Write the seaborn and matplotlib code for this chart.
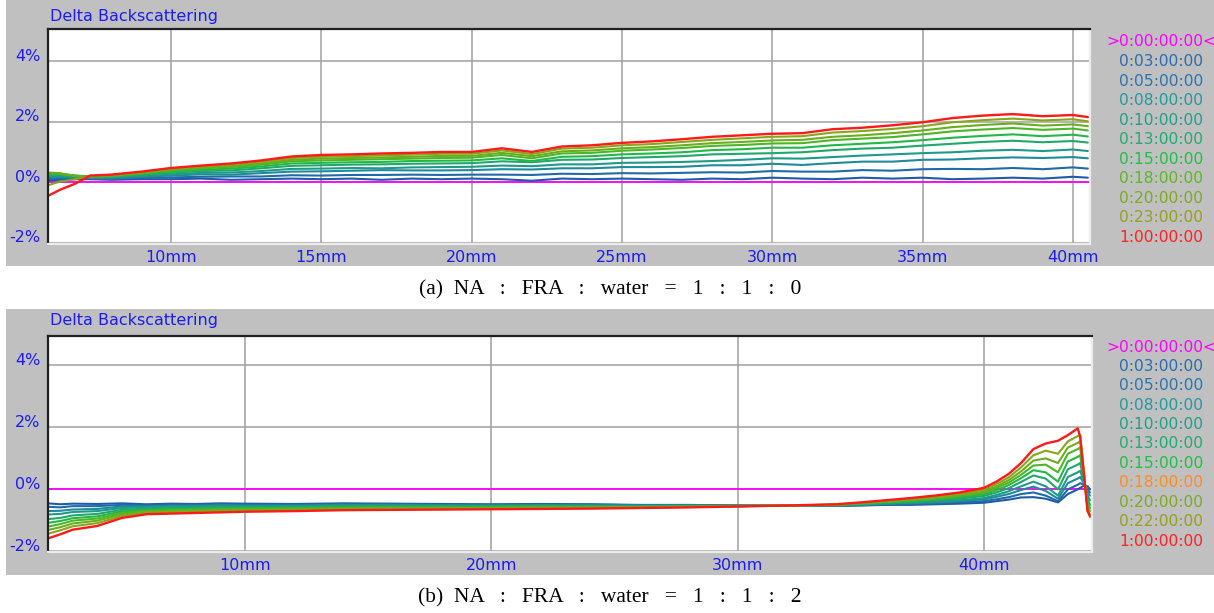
import matplotlib
matplotlib.use("Agg")
import matplotlib.pyplot as plt
import seaborn as sns
import pandas as pd
from matplotlib.patches import Rectangle
from matplotlib.transforms import ScaledTranslation

# ------------------------------------------------------------------
# Panel (a): NA : FRA : water = 1 : 1 : 0   (delta backscattering, %)
# ------------------------------------------------------------------
A_X = [5.9, 6.3, 6.8, 7.3, 8, 9, 10, 11, 12, 13, 14, 15, 16, 17, 18, 19, 20, 21, 22,
       23, 24, 25, 26, 27, 28, 29, 30, 31, 32, 33, 34, 35, 36, 37, 38, 39, 40, 40.5]
A_TIMES = ["0:03:00:00", "0:05:00:00", "0:08:00:00", "0:10:00:00", "0:13:00:00",
           "0:15:00:00", "0:18:00:00", "0:20:00:00", "0:23:00:00", "1:00:00:00"]
A_03 = [0.05, 0.08, 0.10, 0.10, 0.08, 0.10, 0.10, 0.12, 0.08, 0.10, 0.12, 0.10, 0.12, 0.08, 0.12, 0.10, 0.12, 0.10, 0.05,
        0.12, 0.10, 0.12, 0.10, 0.08, 0.12, 0.10, 0.15, 0.12, 0.10, 0.15, 0.12, 0.15, 0.10, 0.12, 0.15, 0.12, 0.18, 0.15]
A_05 = [0.10, 0.12, 0.12, 0.12, 0.11, 0.14, 0.16, 0.18, 0.19, 0.19, 0.23, 0.22, 0.24, 0.24, 0.25, 0.24, 0.25, 0.25, 0.24,
        0.28, 0.27, 0.30, 0.29, 0.31, 0.33, 0.32, 0.37, 0.35, 0.35, 0.40, 0.38, 0.43, 0.44, 0.43, 0.47, 0.43, 0.49, 0.45]
A_08 = [0.15, 0.17, 0.15, 0.14, 0.13, 0.18, 0.22, 0.26, 0.25, 0.30, 0.35, 0.36, 0.38, 0.40, 0.39, 0.39, 0.40, 0.43, 0.42,
        0.46, 0.46, 0.50, 0.50, 0.51, 0.56, 0.56, 0.61, 0.57, 0.63, 0.68, 0.68, 0.74, 0.75, 0.79, 0.82, 0.80, 0.83, 0.79]
A_10 = [0.20, 0.20, 0.18, 0.15, 0.16, 0.21, 0.26, 0.31, 0.32, 0.37, 0.44, 0.45, 0.47, 0.46, 0.49, 0.50, 0.51, 0.55, 0.53,
        0.59, 0.59, 0.64, 0.65, 0.67, 0.70, 0.74, 0.79, 0.78, 0.83, 0.88, 0.92, 0.96, 0.99, 1.04, 1.07, 1.03, 1.08, 1.03]
A_13 = [0.25, 0.24, 0.20, 0.17, 0.18, 0.25, 0.31, 0.37, 0.39, 0.46, 0.54, 0.56, 0.58, 0.59, 0.61, 0.62, 0.63, 0.69, 0.66,
        0.74, 0.75, 0.80, 0.83, 0.86, 0.92, 0.94, 0.96, 0.99, 1.06, 1.11, 1.14, 1.21, 1.27, 1.33, 1.37, 1.32, 1.36, 1.31]
A_15 = [0.28, 0.27, 0.22, 0.18, 0.20, 0.27, 0.35, 0.41, 0.45, 0.52, 0.62, 0.64, 0.66, 0.67, 0.70, 0.71, 0.72, 0.79, 0.70,
        0.84, 0.86, 0.92, 0.95, 0.99, 1.06, 1.09, 1.14, 1.14, 1.22, 1.27, 1.32, 1.39, 1.47, 1.53, 1.58, 1.52, 1.57, 1.51]
A_18 = [0.30, 0.28, 0.22, 0.19, 0.21, 0.30, 0.39, 0.46, 0.50, 0.58, 0.69, 0.72, 0.74, 0.76, 0.78, 0.80, 0.81, 0.90, 0.79,
        0.95, 0.97, 1.04, 1.08, 1.13, 1.20, 1.23, 1.28, 1.29, 1.39, 1.44, 1.49, 1.58, 1.68, 1.74, 1.79, 1.73, 1.77, 1.71]
A_20 = [0.32, 0.30, 0.20, 0.20, 0.23, 0.31, 0.42, 0.49, 0.54, 0.63, 0.74, 0.78, 0.80, 0.82, 0.84, 0.87, 0.87, 0.97, 0.86,
        1.02, 1.05, 1.12, 1.16, 1.22, 1.29, 1.33, 1.38, 1.40, 1.50, 1.55, 1.62, 1.71, 1.82, 1.89, 1.94, 1.87, 1.91, 1.85]
A_23 = [-0.10, 0.02, 0.10, 0.21, 0.24, 0.33, 0.44, 0.52, 0.58, 0.68, 0.80, 0.84, 0.86, 0.89, 0.91, 0.94, 0.94, 1.05, 0.93,
        1.11, 1.14, 1.22, 1.26, 1.33, 1.40, 1.45, 1.50, 1.52, 1.64, 1.69, 1.76, 1.85, 1.98, 2.05, 2.10, 2.04, 2.08, 2.01]
A_100 = [-0.45, -0.25, -0.05, 0.22, 0.25, 0.35, 0.47, 0.55, 0.62, 0.72, 0.85, 0.90, 0.92, 0.95, 0.97, 1.00, 1.00, 1.12, 1.00,
         1.18, 1.22, 1.30, 1.35, 1.42, 1.50, 1.55, 1.60, 1.62, 1.75, 1.80, 1.88, 1.98, 2.12, 2.20, 2.25, 2.18, 2.22, 2.15]

# ------------------------------------------------------------------
# Panel (b): NA : FRA : water = 1 : 1 : 2
# ------------------------------------------------------------------
B_X = [2.0, 2.5, 3, 4, 5, 6, 7, 8, 9, 10, 12, 14, 16, 18, 20, 22, 24, 26, 28, 30, 32, 34,
       35, 36, 37, 38, 39, 40, 40.5, 41, 41.5, 42, 42.5, 43, 43.4, 43.8, 43.9, 44.05, 44.2, 44.3]
B_TIMES = ["0:03:00:00", "0:05:00:00", "0:08:00:00", "0:10:00:00", "0:13:00:00",
           "0:15:00:00", "0:18:00:00", "0:20:00:00", "0:22:00:00", "1:00:00:00"]
B_03 = [-0.45, -0.48, -0.46, -0.47, -0.45, -0.48, -0.46, -0.47, -0.45, -0.46, -0.47, -0.45, -0.46, -0.47, -0.48, -0.47,
        -0.48, -0.50, -0.50, -0.52, -0.53, -0.53, -0.52, -0.50, -0.50, -0.48, -0.46, -0.43, -0.38, -0.33, -0.26, -0.25,
        -0.30, -0.42, -0.15, 0.00, 0.05, 0.12, 0.10, 0.00]
B_05 = [-0.56, -0.58, -0.54, -0.54, -0.50, -0.51, -0.49, -0.50, -0.48, -0.49, -0.49, -0.47, -0.48, -0.49, -0.50, -0.49,
        -0.49, -0.51, -0.51, -0.52, -0.53, -0.53, -0.51, -0.49, -0.48, -0.45, -0.42, -0.38, -0.32, -0.25, -0.15, -0.10,
        -0.20, -0.38, 0.00, 0.15, 0.20, 0.15, 0.00, -0.10]
B_08 = [-0.70, -0.69, -0.65, -0.63, -0.55, -0.55, -0.53, -0.53, -0.51, -0.52, -0.52, -0.50, -0.50, -0.51, -0.52, -0.51,
        -0.51, -0.52, -0.52, -0.53, -0.53, -0.52, -0.50, -0.47, -0.45, -0.42, -0.38, -0.32, -0.24, -0.15, -0.02, 0.09,
        -0.05, -0.30, 0.20, 0.35, 0.40, 0.20, -0.10, -0.20]
B_10 = [-0.81, -0.79, -0.73, -0.70, -0.60, -0.58, -0.56, -0.56, -0.54, -0.54, -0.54, -0.52, -0.52, -0.53, -0.53, -0.52,
        -0.53, -0.53, -0.53, -0.53, -0.53, -0.51, -0.49, -0.45, -0.43, -0.39, -0.35, -0.28, -0.18, -0.06, 0.10, 0.25,
        0.10, -0.20, 0.40, 0.55, 0.60, 0.25, -0.20, -0.35]
B_13 = [-0.96, -0.92, -0.84, -0.79, -0.66, -0.62, -0.60, -0.60, -0.58, -0.58, -0.57, -0.55, -0.55, -0.55, -0.55, -0.54,
        -0.54, -0.55, -0.54, -0.53, -0.53, -0.51, -0.48, -0.43, -0.40, -0.35, -0.30, -0.21, -0.10, 0.04, 0.24, 0.45,
        0.35, 0.00, 0.65, 0.80, 0.85, 0.30, -0.30, -0.50]
B_15 = [-1.08, -1.02, -0.93, -0.87, -0.71, -0.66, -0.64, -0.63, -0.61, -0.61, -0.60, -0.57, -0.57, -0.57, -0.57, -0.56,
        -0.56, -0.56, -0.55, -0.54, -0.52, -0.50, -0.46, -0.42, -0.38, -0.32, -0.26, -0.16, -0.03, 0.14, 0.36, 0.62,
        0.55, 0.25, 0.90, 1.05, 1.10, 0.35, -0.40, -0.60]
B_18 = [-1.20, -1.12, -1.01, -0.94, -0.76, -0.69, -0.67, -0.66, -0.64, -0.63, -0.62, -0.60, -0.59, -0.59, -0.59, -0.58,
        -0.57, -0.57, -0.55, -0.54, -0.52, -0.50, -0.45, -0.40, -0.36, -0.30, -0.22, -0.11, 0.04, 0.22, 0.47, 0.77,
        0.80, 0.55, 1.15, 1.30, 1.35, 0.40, -0.50, -0.70]
B_20 = [-1.31, -1.22, -1.10, -1.01, -0.81, -0.72, -0.70, -0.69, -0.67, -0.66, -0.65, -0.62, -0.61, -0.61, -0.60, -0.59,
        -0.59, -0.58, -0.56, -0.54, -0.52, -0.49, -0.44, -0.39, -0.33, -0.27, -0.19, -0.07, 0.10, 0.30, 0.58, 0.93,
        1.00, 0.85, 1.35, 1.50, 1.55, 0.50, -0.60, -0.85]
B_22 = [-1.43, -1.32, -1.19, -1.09, -0.86, -0.76, -0.74, -0.72, -0.70, -0.69, -0.67, -0.64, -0.63, -0.63, -0.62, -0.61,
        -0.60, -0.59, -0.57, -0.55, -0.52, -0.49, -0.43, -0.37, -0.31, -0.24, -0.15, -0.01, 0.17, 0.39, 0.71, 1.10,
        1.25, 1.15, 1.55, 1.72, 1.75, 0.60, -0.70, -0.90]
B_100 = [-1.58, -1.45, -1.30, -1.18, -0.92, -0.80, -0.78, -0.76, -0.74, -0.72, -0.70, -0.67, -0.66, -0.65, -0.64, -0.63,
         -0.62, -0.60, -0.58, -0.55, -0.52, -0.48, -0.42, -0.35, -0.28, -0.20, -0.10, 0.05, 0.25, 0.50, 0.85, 1.30,
         1.48, 1.57, 1.75, 1.97, 1.70, 0.50, -0.70, -0.85]

REF_LABEL = ">0:00:00:00<"
REF_LEVEL = 0.0
A_XTICKS = [10, 15, 20, 25, 30, 35, 40]
B_XTICKS = [10, 20, 30, 40]
YTICKS = [-2, 0, 2, 4]
YTICK_LABELS = ["-2%", "0%", "2%", "4%"]
TITLE = "Delta Backscattering"
CAPTION_A = "(a)  NA   :   FRA   :   water   =   1   :   1   :   0"
CAPTION_B = "(b)  NA   :   FRA   :   water   =   1   :   1   :   2"

# ------------------------------------------------------------------
LINE_COLORS = ["#1f5ca8", "#206aa8", "#1f8a9c", "#1f9a88", "#20a86c", "#22b848",
               "#4cb626", "#6aae1e", "#86a61c", "#ff1a1a"]
A_TEXT_COLORS = ["#2a6cb0", "#2a74b0", "#22999c", "#20a088", "#20ac70", "#20c040",
                 "#5cb820", "#7eaa20", "#98a020", "#ff2020"]
B_TEXT_COLORS = ["#2a6cb0", "#2a74b0", "#22999c", "#20a088", "#20ac70", "#20c040",
                 "#ff8c1a", "#7eaa20", "#98a020", "#ff2020"]
BLUE = "#1c1cf0"
MAGENTA = "#ff00ff"

sns.set_theme(style="white")
plt.rcParams["font.family"] = ["DejaVu Sans"]

W, H = 1214, 613
fig = plt.figure(figsize=(W / 100, H / 100), dpi=100)
fig.patch.set_facecolor("white")


def fx(px):
    return px / W


def fy(py):
    return 1 - py / H


def long_df(xs, times, series):
    rows = []
    for t, ys in zip(times, series):
        for xv, yv in zip(xs, ys):
            rows.append({"x": xv, "y": yv, "time": t})
    return pd.DataFrame(rows)


panels = [
    dict(gray=(0, 266), box=(48, 29, 1090, 244), xs=A_X, times=A_TIMES,
         series=[A_03, A_05, A_08, A_10, A_13, A_15, A_18, A_20, A_23, A_100],
         xlim=(5.9, 40.57), ylim=(-2.04, 5.06), xticks=A_XTICKS, tcol=A_TEXT_COLORS,
         title_y=16, leg_y0=42, leg_dy=19.5, caption=CAPTION_A, cap_y=290),
    dict(gray=(309, 575), box=(48, 336, 1092, 552), xs=B_X, times=B_TIMES,
         series=[B_03, B_05, B_08, B_10, B_13, B_15, B_18, B_20, B_22, B_100],
         xlim=(2.0, 44.38), ylim=(-2.02, 4.95), xticks=B_XTICKS, tcol=B_TEXT_COLORS,
         title_y=321, leg_y0=347, leg_dy=19.4, caption=CAPTION_B, cap_y=598),
]

for p in panels:
    g0, g1 = p["gray"]
    fig.patches.append(Rectangle((fx(6), fy(g1)), 1 - fx(6), (g1 - g0) / H,
                                 transform=fig.transFigure, facecolor="#c0c0c0",
                                 edgecolor="none", zorder=-5))
    l, t, r, b = p["box"]
    ax = fig.add_axes([fx(l), fy(b), (r - l) / W, (b - t) / H])
    ax.set_zorder(1)
    ax.set_facecolor("white")
    ax.axhline(REF_LEVEL, color=MAGENTA, lw=1.3, zorder=1.5)
    df = long_df(p["xs"], p["times"], p["series"])
    pal = dict(zip(p["times"], LINE_COLORS))
    sns.lineplot(data=df, x="x", y="y", hue="time", hue_order=p["times"],
                 palette=pal, estimator=None, sort=False, legend=False,
                 lw=1.5, ax=ax, zorder=2)
    ax.lines[-1].set_linewidth(1.7)
    ax.set_xlim(*p["xlim"])
    ax.set_ylim(*p["ylim"])
    ax.set_xticks(p["xticks"])
    ax.set_xticklabels([f"{v}mm" for v in p["xticks"]])
    ax.set_yticks(YTICKS)
    ax.set_yticklabels(YTICK_LABELS)
    ax.set_xlabel("")
    ax.set_ylabel("")
    ax.grid(True, color="#a0a0a0", lw=1.1)
    ax.set_axisbelow(True)
    ax.tick_params(axis="both", length=0, labelsize=11.5, labelcolor=BLUE)
    ax.tick_params(axis="x", pad=4)
    ax.tick_params(axis="y", pad=5.5)
    off = ScaledTranslation(0, 6.5 / 100, fig.dpi_scale_trans)
    for lab in ax.get_yticklabels():
        lab.set_transform(lab.get_transform() + off)
    for s in ["left", "top"]:
        ax.spines[s].set_color("#202020")
        ax.spines[s].set_linewidth(1.6)
    for s in ["right", "bottom"]:
        ax.spines[s].set_color("#ececec")
        ax.spines[s].set_linewidth(1.6)

    fig.text(fx(50), fy(p["title_y"]), TITLE, color=BLUE, fontsize=11.5,
             ha="left", va="center")

    # legend column
    y0 = p["leg_y0"]
    fig.text(fx(1106), fy(y0), REF_LABEL, color=MAGENTA, fontsize=11.2,
             ha="left", va="center")
    for i, (tname, c) in enumerate(zip(p["times"], p["tcol"])):
        fig.text(fx(1119), fy(y0 + (i + 1) * p["leg_dy"]), tname, color=c,
                 fontsize=11.2, ha="left", va="center")

    fig.text(fx(610), fy(p["cap_y"]), p["caption"], family="Liberation Serif",
             fontsize=15.5, color="black", ha="center", va="center")

fig.savefig("out.png", dpi=100)
